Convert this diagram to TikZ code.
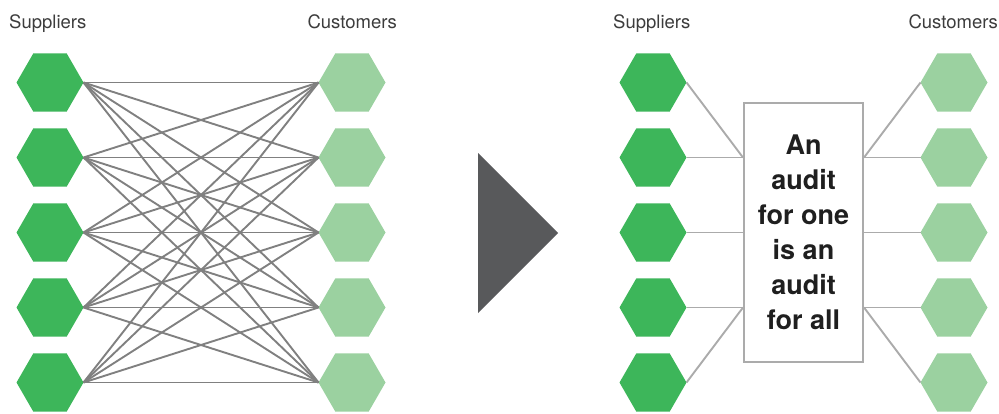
\documentclass[tikz,border=0pt]{standalone}
\usepackage{fontspec}
\setmainfont{TeX Gyre Heros}
\usetikzlibrary{shapes.geometric}
\definecolor{supgreen}{HTML}{3DB65A}
\definecolor{cusgreen}{HTML}{9BD1A0}
\definecolor{meshgray}{HTML}{808080}
\definecolor{linkgray}{HTML}{ABABAB}
\definecolor{arrowgray}{HTML}{58595B}
\definecolor{labelgray}{HTML}{3C3C3C}
\tikzset{hexa/.style={regular polygon, regular polygon sides=6, minimum size=67pt,
      inner sep=0pt, outer sep=0pt, draw=none},
  supplier/.style={hexa, fill=supgreen},
  customer/.style={hexa, fill=cusgreen},
  heading/.style={font=\fontsize{18.5}{20}\selectfont, text=labelgray, inner sep=0pt}}

\begin{document}
\begin{tikzpicture}[x=1pt, y=-1pt]
		\useasboundingbox (0,0) rectangle (999,413);
		% headings
		\node[heading, anchor=base west] (lsup) at (9,28) {Suppliers};
		\node[heading, anchor=base east] (lcus) at (397,28) {Customers};
		\node[heading, anchor=base west] (rsup) at (613,28) {Suppliers};
		\node[heading, anchor=base east] (rcus) at (998,28) {Customers};
		% left panel: everyone audits everyone
		\foreach \i in {1,...,5} {
			\node[supplier] (ls\i) at (50,{82.5+75*(\i-1)}) {};
			\node[customer] (lc\i) at (352,{82.5+75*(\i-1)}) {};
		}
		\foreach \i in {1,...,5}
			\foreach \j in {1,...,5}
				\draw[meshgray, line width=1.9pt] (ls\i.east) -- (lc\j.west);
		% arrow
		\fill[arrowgray] (478,153) coordinate(tri1) -- (558,233) coordinate(tri2) -- (478,313) coordinate(tri3) -- cycle;
		% right panel: one shared audit
		\foreach \i in {1,...,5} {
			\node[supplier] (rs\i) at (653,{82.5+75*(\i-1)}) {};
			\node[customer] (rc\i) at (954,{82.5+75*(\i-1)}) {};
		}
		\node[draw=linkgray, line width=2pt, fill=white, minimum width=119pt, minimum height=259pt,
			inner sep=0pt, align=center, text=black!88,
			font=\bfseries\fontsize{27}{35}\selectfont] (audit) at (803.5,232.5)
			{An\\audit\\for one\\is an\\audit\\for all};
		\coordinate (aw2) at (audit.west |- rs2);
		\coordinate (aw4) at (audit.west |- rs4);
		\coordinate (ae2) at (audit.east |- rc2);
		\coordinate (ae4) at (audit.east |- rc4);
		\draw[linkgray, line width=1.9pt] (rs1.east) -- (aw2);
		\draw[linkgray, line width=1.9pt] (rs2.east) -- (aw2);
		\draw[linkgray, line width=1.9pt] (rs3.east) -- (audit.west |- rs3);
		\draw[linkgray, line width=1.9pt] (rs4.east) -- (aw4);
		\draw[linkgray, line width=1.9pt] (rs5.east) -- (aw4);
		\draw[linkgray, line width=1.9pt] (rc1.west) -- (ae2);
		\draw[linkgray, line width=1.9pt] (rc2.west) -- (ae2);
		\draw[linkgray, line width=1.9pt] (rc3.west) -- (audit.east |- rc3);
		\draw[linkgray, line width=1.9pt] (rc4.west) -- (ae4);
		\draw[linkgray, line width=1.9pt] (rc5.west) -- (ae4);
		\end{tikzpicture}
\end{document}
